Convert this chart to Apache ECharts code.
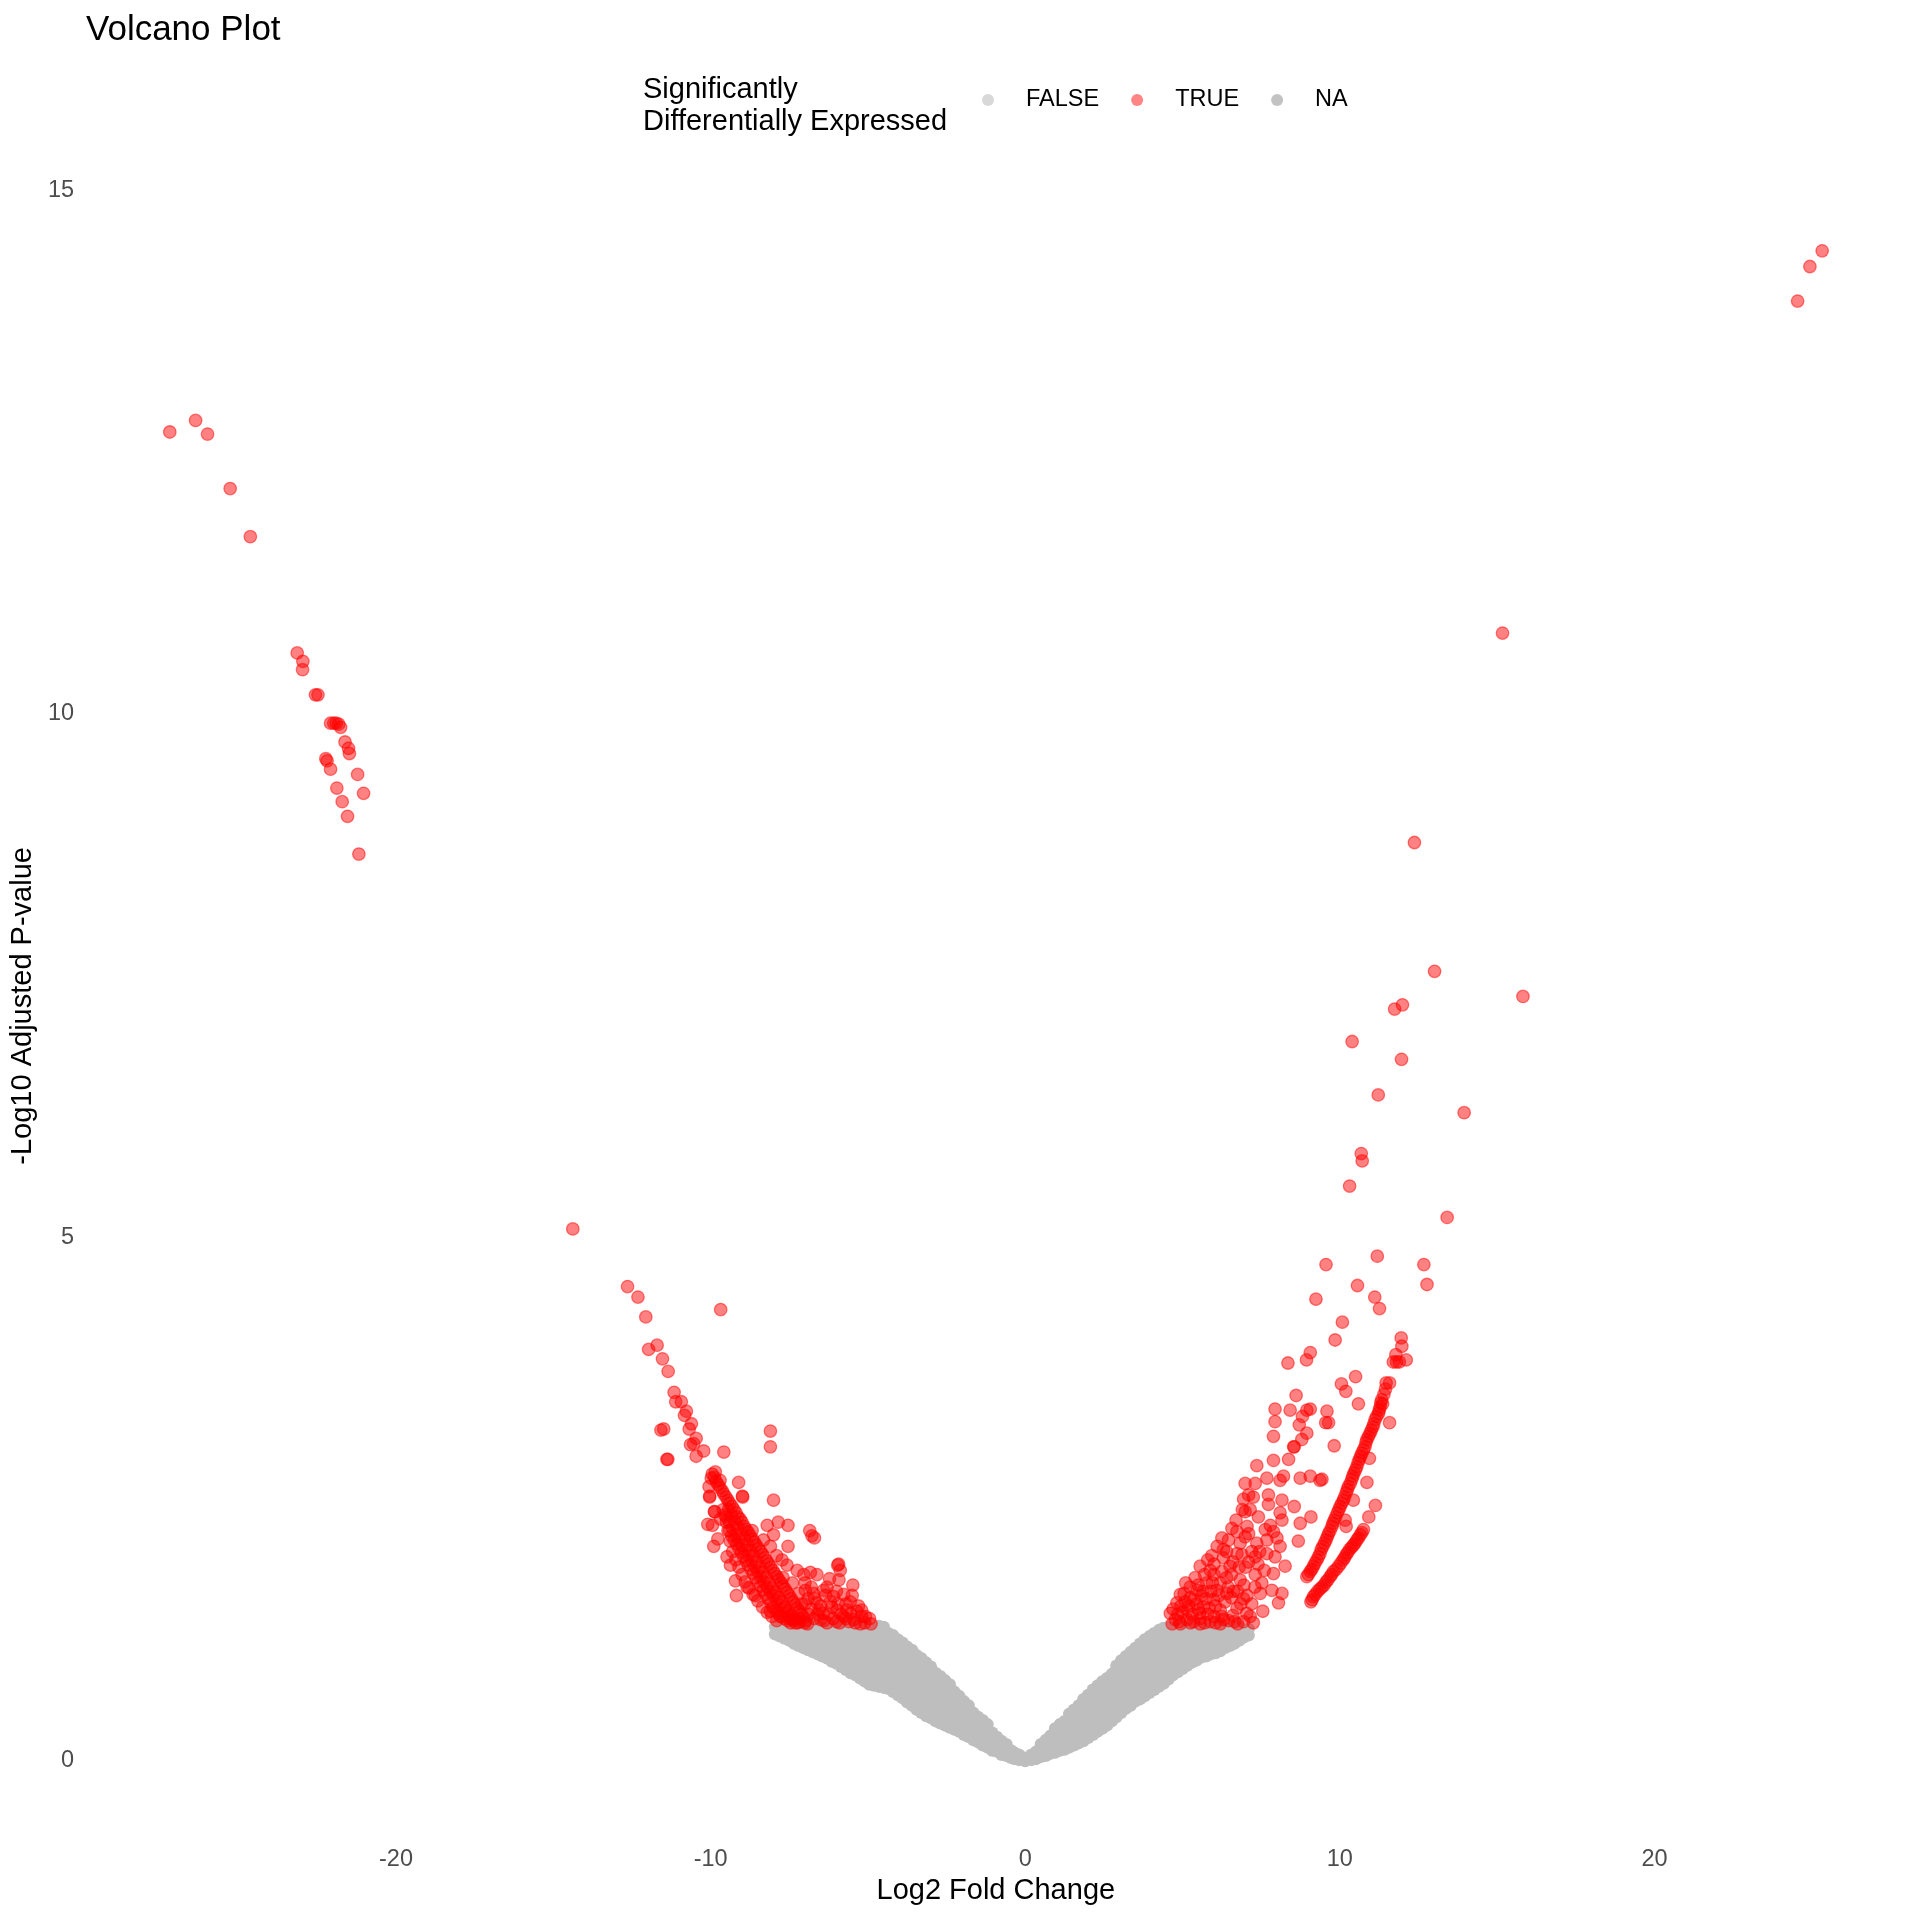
<!DOCTYPE html>
<html>
<head>
<meta charset="utf-8">
<script src="https://cdn.jsdelivr.net/npm/echarts@6/dist/echarts.min.js"></script>
<style>html,body{margin:0;padding:0;background:#fff}#c{width:1920px;height:1920px}</style>
</head>
<body>
<div id="c"></div>
<script>
// ---------- data ----------
const xTicks = [-20, -10, 0, 10, 20];
const yTicks = [0, 5, 10, 15];
const legendNames = ['FALSE', 'TRUE', 'NA'];

// red (significant), left far outliers
const redLeftFar = [[-27.19,12.69],[-26.37,12.80],[-25.99,12.67],[-25.27,12.15],[-24.63,11.69],
[-23.14,10.58],[-22.96,10.50],[-22.97,10.42],[-22.56,10.18],[-22.48,10.18],
[-22.08,9.91],[-21.98,9.91],[-21.90,9.91],[-21.82,9.90],[-21.76,9.87],
[-21.62,9.73],[-21.51,9.67],[-21.48,9.62],[-22.23,9.57],[-22.19,9.55],[-22.08,9.47],[-21.22,9.42],
[-21.88,9.29],[-21.03,9.24],[-21.71,9.16],[-21.54,9.02],[-21.18,8.66]];

// red, left middle scatter
const redLeftMid = [[-14.38,5.08],[-12.64,4.53],[-12.31,4.43],[-12.06,4.24],[-9.68,4.31],[-11.97,3.93],[-11.70,3.97],
[-11.53,3.84],[-11.35,3.72],[-11.16,3.52],[-11.11,3.43],[-10.93,3.43],[-10.77,3.34],[-10.83,3.30],[-10.61,3.22],
[-10.68,3.17],[-11.58,3.16],[-11.49,3.17],[-10.46,3.08],[-10.64,3.02],[-10.54,3.03],[-10.22,2.96],[-10.46,2.91],
[-11.39,2.88],[-11.36,2.88],[-9.58,2.95],[-8.10,3.15],[-8.10,3.00],[-9.11,2.66],[-8.99,2.53],[-10.03,2.53],
[-8.00,2.49],[-9.88,2.38],[-9.85,2.76],[-9.98,2.70],[-9.70,2.68],[-10.05,2.62]];

// red, left dense stripe and surroundings
const redLeftStripe = [[-9.95,2.74],[-9.88,2.71],[-9.83,2.67],[-9.76,2.64],[-9.70,2.61],[-9.63,2.58],[-9.58,2.55],
[-9.51,2.52],[-9.45,2.49],[-9.39,2.46],[-9.32,2.43],[-9.26,2.40],[-9.19,2.37],[-9.13,2.33],[-9.06,2.31],[-9.00,2.28],
[-8.93,2.24],[-8.87,2.21],[-8.80,2.18],[-8.74,2.15],[-8.67,2.12],[-8.61,2.09],[-8.55,2.06],[-8.48,2.03],[-8.41,2.00],
[-8.35,1.97],[-8.28,1.94],[-8.22,1.91],[-8.15,1.88],[-8.09,1.85],[-8.02,1.82],[-7.96,1.79],[-7.89,1.76],[-7.83,1.73],
[-7.76,1.70],[-7.70,1.67],[-7.63,1.64],[-7.57,1.61],[-7.50,1.58],[-7.44,1.55],[-7.37,1.52],[-7.31,1.49],[-7.24,1.46],
[-7.18,1.43],[-7.11,1.40],[-7.05,1.37],[-6.98,1.34],[-6.92,1.31],
[-9.43,2.40],[-9.33,2.34],[-9.23,2.28],[-9.13,2.23],[-9.03,2.17],[-8.93,2.12],[-8.83,2.06],[-8.73,2.01],[-8.63,1.96],
[-8.53,1.90],[-8.43,1.85],[-8.33,1.80],[-8.23,1.75],[-8.13,1.70],[-8.03,1.65],[-7.93,1.61],[-7.83,1.56],[-7.73,1.52],
[-7.63,1.47],[-7.53,1.43],[-7.43,1.39],[-7.33,1.35],[-7.23,1.32],
[-9.40,2.20],[-9.33,2.15],[-9.25,2.11],[-9.17,2.07],[-9.10,2.03],[-9.02,1.99],[-8.95,1.95],[-8.87,1.91],[-8.80,1.87],
[-8.72,1.83],[-8.64,1.79],[-8.57,1.75],[-8.49,1.71],[-8.41,1.67],[-8.33,1.63],[-8.25,1.59],[-8.17,1.55],[-8.09,1.51],
[-8.01,1.47],[-7.93,1.44],[-7.85,1.41],[-7.75,1.38],[-7.65,1.36],[-7.55,1.34],[-7.45,1.32],
[-9.60,2.40],[-9.50,2.33],[-9.40,2.28],[-9.30,2.22],[-9.20,2.16],[-9.10,2.11],[-9.00,2.06],[-8.90,2.01],[-8.80,1.96],
[-8.70,1.91],[-8.60,1.86],[-8.50,1.81],[-8.40,1.76],[-8.30,1.71],[-8.20,1.66],[-8.10,1.62],[-8.00,1.58],[-7.90,1.53],
[-7.80,1.49],[-7.70,1.45],[-7.60,1.41],[-7.50,1.38],[-7.40,1.35],[-7.30,1.32],
[-9.55,2.35],[-9.50,2.28],[-9.45,2.20],[-9.38,2.10],[-9.30,2.00],[-9.20,1.92],[-9.10,1.85],[-9.00,1.78],[-8.90,1.71],
[-8.78,1.65],[-8.65,1.59],[-8.50,1.53],[-8.35,1.47],[-8.20,1.42],[-8.05,1.38],[-7.90,1.34]];

const redLeftScatter = [[-8.98,2.52],[-10.03,2.52],[-9.87,2.38],[-9.69,2.31],[-10.09,2.26],[-9.94,2.25],[-7.85,2.28],
[-7.54,2.25],[-6.78,2.15],[-8.68,2.20],[-9.77,2.12],[-9.90,2.05],[-8.32,2.11],[-8.10,2.05],[-7.54,2.05],[-9.48,1.95],
[-9.37,1.87],[-7.73,1.92],[-7.57,1.87],[-9.21,1.72],[-9.18,1.58],[-8.84,1.66],[-8.58,1.58],[-7.25,1.82],[-7.04,1.78],
[-6.83,1.80],[-6.62,1.78],[-6.30,1.66],[-6.22,1.74],[-5.93,1.88],[-5.88,1.82],[-5.48,1.68],[-6.99,1.63],[-6.73,1.60],
[-6.41,1.63],[-6.09,1.57],[-5.77,1.59],[-5.56,1.52],[-6.62,1.51],[-6.20,1.52],[-5.98,1.44],[-5.67,1.44],[-5.35,1.43],
[-5.08,1.38],[-4.95,1.36],[-6.41,1.41],[-5.77,1.38],[-5.45,1.35],[-5.24,1.31],[-8.10,1.43],[-7.79,1.38],[-7.47,1.36],
[-7.15,1.33],[-6.85,2.20],[-6.70,2.13],[-5.96,1.87],[-5.92,1.73],[-7.00,1.50],[-6.80,1.45],[-6.60,1.40],[-6.50,1.35],
[-6.30,1.32],[-6.10,1.36],[-5.90,1.32],[-5.60,1.33],[-7.20,1.60],[-7.00,1.70],[-6.90,1.55],[-7.90,1.96],[-8.00,2.16],
[-8.20,2.25],[-7.70,1.75],[-7.40,1.70],[-6.50,1.48],[-6.00,1.62],[-5.70,1.50],[-5.30,1.48],
[-7.20,1.36],[-7.00,1.32],[-6.88,1.40],[-6.70,1.36],[-6.55,1.44],[-6.40,1.34],[-6.25,1.40],[-6.15,1.47],[-6.00,1.33],
[-5.85,1.40],[-5.70,1.36],[-5.55,1.41],[-5.40,1.32],[-5.20,1.38],[-5.10,1.32],[-6.70,1.55],[-6.35,1.58],[-6.80,1.66],
[-7.10,1.50],[-5.95,1.50],[-5.50,1.58],[-5.20,1.44],[-4.90,1.31]];

// red, right outliers and upper scatter
const redRightFar = [[25.33,14.42],[24.94,14.27],[24.55,13.94],[15.17,10.77],[12.37,8.77],[13.01,7.54],[15.82,7.30],
[11.99,7.22],[11.74,7.18],[10.39,6.87],[11.96,6.70],[11.22,6.36],[13.95,6.19],[10.68,5.80],[10.71,5.73],[10.31,5.49],
[13.41,5.19]];

const redRightMid = [[11.19,4.82],[9.56,4.74],[12.67,4.74],[10.56,4.54],[12.77,4.55],[11.11,4.43],[9.24,4.41],
[11.26,4.32],[10.08,4.19],[9.85,4.02],[11.95,4.04],[11.97,3.96],[11.78,3.88],[11.70,3.81],[11.89,3.81],[12.11,3.83],
[11.80,3.81],[9.06,3.90],[8.94,3.83],[8.35,3.80],[10.50,3.67],[10.05,3.60],[10.19,3.53],[11.47,3.61],[11.58,3.61],
[8.61,3.49],[10.59,3.41],[7.94,3.36],[8.42,3.35],[8.95,3.35],[9.06,3.36],[8.81,3.29],[8.71,3.21],[9.59,3.34],
[9.64,3.23],[9.55,3.23],[7.94,3.24],[7.89,3.10],[8.95,3.13],[8.79,3.07],[8.53,3.00],[8.55,3.00],[9.82,3.01]];

// red, right wedge next to the grey cloud
const redRightWedge = [[7.36,2.82],[7.89,2.87],[8.37,2.88],[6.99,2.65],[7.31,2.65],[7.68,2.70],[8.10,2.68],[8.21,2.72],
[8.74,2.70],[9.06,2.72],[9.37,2.68],[9.43,2.69],[6.94,2.50],[7.10,2.54],[7.25,2.52],[7.73,2.54],[7.73,2.45],[8.16,2.49],
[8.55,2.43],[6.99,2.38],[7.15,2.40],[7.41,2.33],[8.10,2.37],[8.16,2.30],[8.74,2.27],[9.08,2.33],[6.57,2.22],[6.73,2.19],
[7.05,2.24],[7.10,2.17],[7.63,2.21],[7.79,2.25],[7.89,2.19],[6.25,2.13],[6.46,2.11],[6.83,2.08],[6.99,2.14],[7.36,2.08],
[7.68,2.11],[8.00,2.13],[8.10,2.05],[8.68,2.10],[5.93,1.96],[6.30,1.94],[6.73,1.98],[6.89,1.97],[7.31,1.95],[7.68,1.98],
[7.94,1.95],[8.26,1.86],[7.89,1.79],[5.56,1.86],[5.88,1.82],[6.25,1.81],[6.51,1.86],[6.83,1.73],[7.31,1.78],[7.52,1.70],
[7.84,1.63],[8.16,1.60],[8.05,1.51],[7.55,1.43],[5.24,1.66],[5.46,1.63],[5.77,1.70],[6.09,1.63],[6.41,1.60],[6.62,1.62],
[6.94,1.55],[7.47,1.60],[4.93,1.59],[5.08,1.52],[4.82,1.51],[5.35,1.54],[5.67,1.47],[5.98,1.54],[6.20,1.44],[6.73,1.46],
[7.04,1.41],[7.15,1.38],[4.61,1.41],[4.77,1.35],[5.14,1.35],[5.56,1.36],[5.88,1.33],[6.30,1.35],[6.46,1.34],[6.94,1.33],
[4.67,1.31],[4.93,1.31],[5.56,1.31],[6.20,1.31],[5.00,1.42],[5.30,1.40],[5.50,1.45],[5.80,1.40],[6.00,1.38],[6.60,1.39],
[5.20,1.48],[5.60,1.58],[5.90,1.62],[6.20,1.70],[6.40,1.75],[6.00,1.78],[5.70,1.78],[6.60,1.90],[6.40,2.00],[6.10,2.05],
[5.40,1.75],[6.80,1.85],[7.10,1.90],[7.20,2.00],[6.70,2.30],[6.90,2.40],
[4.70,1.45],[4.85,1.40],[4.95,1.48],[5.05,1.60],[5.15,1.44],[5.25,1.56],[5.35,1.33],[5.45,1.50],[5.55,1.41],[5.65,1.62],
[5.75,1.55],[5.85,1.46],[5.95,1.70],[6.05,1.48],[6.15,1.58],[6.25,1.38],[6.35,1.52],[6.45,1.66],[6.55,1.56],[6.65,1.33],
[6.75,1.62],[6.85,1.50],[6.95,1.68],[7.05,1.58],[7.20,1.50],[7.30,1.66],[5.10,1.70],[5.50,1.68],[5.80,1.92],[6.00,1.88],
[6.30,2.02],[6.55,1.78],[7.00,1.85],[7.40,1.88],[7.60,1.82],[7.45,2.00],[4.90,1.33],[5.25,1.32],[5.70,1.32],[6.05,1.32],
[6.75,1.31],[7.25,1.32]];

// red, the two steep dense stripes on the right
const redRightStripes = [[11.33,3.45],[11.28,3.38],[11.23,3.32],[11.12,3.26],[11.05,3.19],[10.96,3.13],[10.86,3.07],
[10.80,3.00],[10.70,2.94],[10.62,2.88],[10.54,2.81],[10.45,2.75],[10.38,2.69],[10.27,2.62],[10.20,2.56],[10.11,2.49],
[10.01,2.43],[9.92,2.37],[9.82,2.30],[9.75,2.24],[9.64,2.17],[9.56,2.11],[9.46,2.05],[9.37,1.98],[9.27,1.92],[9.16,1.86],
[9.06,1.81],[8.95,1.76],
[11.36,3.41],[11.25,3.35],[11.17,3.29],[11.08,3.22],[11.00,3.16],[10.91,3.10],[10.83,3.04],[10.75,2.97],[10.66,2.91],
[10.58,2.85],[10.50,2.78],[10.41,2.72],[10.33,2.65],[10.24,2.59],[10.15,2.52],[10.06,2.46],[9.97,2.40],[9.87,2.33],
[9.78,2.27],[9.69,2.20],[9.60,2.14],[9.51,2.08],[9.41,2.02],[9.32,1.95],[9.21,1.89],[9.11,1.83],[9.00,1.78],
[10.75,2.21],[10.65,2.16],[10.54,2.11],[10.43,2.06],[10.31,2.02],[10.20,1.97],[10.10,1.92],[9.96,1.86],[9.80,1.81],
[9.69,1.76],[9.56,1.71],[9.43,1.66],[9.29,1.62],[9.16,1.57],[9.08,1.52],
[10.70,2.18],[10.59,2.13],[10.48,2.08],[10.37,2.04],[10.25,1.99],[10.15,1.94],[10.03,1.89],[9.88,1.83],[9.74,1.78],
[9.62,1.73],[9.50,1.68],[9.36,1.64],[9.22,1.59],[9.12,1.54],
[10.94,2.89],[10.86,2.66],[11.13,2.44],[10.92,2.33],[11.58,3.23],[10.43,2.49],[10.20,2.24],[10.17,2.30],
[11.40,3.50],[11.45,3.55],[11.30,3.42]];

// grey (not significant), left arm of the V
const greyLeft = [[0,0.00],[0,0.03],[-0.2,0.01],[-0.2,0.06],[-0.45,0.03],[-0.45,0.10],[-0.75,0.06],[-0.75,0.13],[-0.75,0.19],
[-1.05,0.10],[-1.05,0.18],[-1.05,0.27],[-1.35,0.15],[-1.35,0.23],[-1.35,0.31],[-1.35,0.39],
[-1.65,0.20],[-1.65,0.28],[-1.65,0.37],[-1.65,0.46],[-1.95,0.25],[-1.95,0.34],[-1.95,0.43],[-1.95,0.51],[-1.95,0.57],
[-2.25,0.30],[-2.25,0.39],[-2.25,0.48],[-2.25,0.57],[-2.25,0.66],
[-2.55,0.34],[-2.55,0.43],[-2.55,0.52],[-2.55,0.61],[-2.55,0.70],[-2.55,0.77],
[-2.85,0.38],[-2.85,0.47],[-2.85,0.56],[-2.85,0.65],[-2.85,0.74],[-2.85,0.84],
[-3.15,0.43],[-3.15,0.52],[-3.15,0.61],[-3.15,0.70],[-3.15,0.79],[-3.15,0.87],[-3.15,0.94],
[-3.45,0.49],[-3.45,0.58],[-3.45,0.67],[-3.45,0.76],[-3.45,0.85],[-3.45,0.94],[-3.45,1.01],
[-3.75,0.56],[-3.75,0.65],[-3.75,0.74],[-3.75,0.83],[-3.75,0.92],[-3.75,1.01],[-3.75,1.09],
[-4.05,0.63],[-4.05,0.72],[-4.05,0.81],[-4.05,0.90],[-4.05,0.99],[-4.05,1.08],[-4.05,1.16],
[-4.35,0.69],[-4.35,0.78],[-4.35,0.87],[-4.35,0.96],[-4.35,1.05],[-4.35,1.14],[-4.35,1.22],
[-4.65,0.71],[-4.65,0.80],[-4.65,0.89],[-4.65,0.98],[-4.65,1.07],[-4.65,1.16],[-4.65,1.25],[-4.65,1.29],
[-4.95,0.73],[-4.95,0.82],[-4.95,0.91],[-4.95,1.00],[-4.95,1.09],[-4.95,1.18],[-4.95,1.27],
[-5.25,0.79],[-5.25,0.88],[-5.25,0.97],[-5.25,1.06],[-5.25,1.15],[-5.25,1.24],[-5.25,1.29],
[-5.55,0.84],[-5.55,0.93],[-5.55,1.02],[-5.55,1.11],[-5.55,1.20],[-5.55,1.28],
[-5.85,0.90],[-5.85,0.99],[-5.85,1.08],[-5.85,1.17],[-5.85,1.26],
[-6.15,0.95],[-6.15,1.04],[-6.15,1.13],[-6.15,1.22],[-6.15,1.29],
[-6.45,1.00],[-6.45,1.09],[-6.45,1.18],[-6.45,1.27],[-6.75,1.04],[-6.75,1.13],[-6.75,1.22],[-6.75,1.29],
[-7.05,1.08],[-7.05,1.17],[-7.05,1.26],[-7.35,1.12],[-7.35,1.21],[-7.35,1.29],[-7.65,1.17],[-7.65,1.25],
[-7.95,1.21],[-7.95,1.28]];

// grey, left arm, in-between columns
const greyLeftB = [[-0.35,0.02],[-0.35,0.08],[-0.6,0.05],[-0.6,0.11],[-0.6,0.16],[-0.9,0.09],[-0.9,0.16],[-0.9,0.23],
[-1.2,0.13],[-1.2,0.21],[-1.2,0.29],[-1.2,0.35],[-1.5,0.18],[-1.5,0.26],[-1.5,0.34],[-1.5,0.42],
[-1.8,0.23],[-1.8,0.31],[-1.8,0.40],[-1.8,0.48],[-1.8,0.53],[-2.1,0.28],[-2.1,0.36],[-2.1,0.45],[-2.1,0.54],[-2.1,0.62],
[-2.4,0.32],[-2.4,0.41],[-2.4,0.50],[-2.4,0.59],[-2.4,0.67],[-2.4,0.73],
[-2.7,0.36],[-2.7,0.45],[-2.7,0.54],[-2.7,0.63],[-2.7,0.72],[-2.7,0.81],
[-3.0,0.41],[-3.0,0.50],[-3.0,0.59],[-3.0,0.68],[-3.0,0.77],[-3.0,0.85],[-3.0,0.90],
[-3.3,0.46],[-3.3,0.55],[-3.3,0.64],[-3.3,0.73],[-3.3,0.82],[-3.3,0.91],[-3.3,0.98],
[-3.6,0.53],[-3.6,0.62],[-3.6,0.71],[-3.6,0.80],[-3.6,0.89],[-3.6,0.98],[-3.6,1.06],
[-3.9,0.60],[-3.9,0.69],[-3.9,0.78],[-3.9,0.87],[-3.9,0.96],[-3.9,1.05],[-3.9,1.13],
[-4.2,0.66],[-4.2,0.75],[-4.2,0.84],[-4.2,0.93],[-4.2,1.02],[-4.2,1.11],[-4.2,1.20],
[-4.5,0.70],[-4.5,0.79],[-4.5,0.88],[-4.5,0.97],[-4.5,1.06],[-4.5,1.15],[-4.5,1.24],[-4.5,1.28],
[-4.8,0.72],[-4.8,0.81],[-4.8,0.90],[-4.8,0.99],[-4.8,1.08],[-4.8,1.17],[-4.8,1.26],
[-5.1,0.76],[-5.1,0.85],[-5.1,0.94],[-5.1,1.03],[-5.1,1.12],[-5.1,1.21],[-5.1,1.29],
[-5.4,0.82],[-5.4,0.91],[-5.4,1.00],[-5.4,1.09],[-5.4,1.18],[-5.4,1.27],
[-5.7,0.87],[-5.7,0.96],[-5.7,1.05],[-5.7,1.14],[-5.7,1.23],[-5.7,1.29],
[-6.0,0.93],[-6.0,1.02],[-6.0,1.11],[-6.0,1.20],[-6.0,1.28],[-6.3,0.98],[-6.3,1.07],[-6.3,1.16],[-6.3,1.25],
[-6.6,1.02],[-6.6,1.11],[-6.6,1.20],[-6.6,1.28],[-6.9,1.06],[-6.9,1.15],[-6.9,1.24],
[-7.2,1.10],[-7.2,1.19],[-7.2,1.27],[-7.5,1.15],[-7.5,1.23],[-7.5,1.29],[-7.8,1.19],[-7.8,1.27]];

// grey, right arm of the V
const greyRight = [[0.2,0.01],[0.2,0.06],[0.5,0.04],[0.5,0.11],[0.5,0.16],[0.8,0.07],[0.8,0.15],[0.8,0.24],
[1.1,0.10],[1.1,0.19],[1.1,0.28],[1.1,0.35],[1.4,0.13],[1.4,0.22],[1.4,0.31],[1.4,0.40],[1.4,0.45],
[1.7,0.17],[1.7,0.26],[1.7,0.35],[1.7,0.44],[1.7,0.53],[2.0,0.22],[2.0,0.31],[2.0,0.40],[2.0,0.49],[2.0,0.58],[2.0,0.63],
[2.3,0.28],[2.3,0.37],[2.3,0.46],[2.3,0.55],[2.3,0.64],[2.3,0.72],[2.6,0.34],[2.6,0.43],[2.6,0.52],[2.6,0.61],[2.6,0.70],[2.6,0.79],
[2.9,0.42],[2.9,0.51],[2.9,0.60],[2.9,0.69],[2.9,0.78],[2.9,0.87],[2.9,0.91],
[3.2,0.50],[3.2,0.59],[3.2,0.68],[3.2,0.77],[3.2,0.86],[3.2,0.95],[3.2,1.00],
[3.5,0.57],[3.5,0.66],[3.5,0.75],[3.5,0.84],[3.5,0.93],[3.5,1.02],[3.5,1.08],
[3.8,0.62],[3.8,0.71],[3.8,0.80],[3.8,0.89],[3.8,0.98],[3.8,1.07],[3.8,1.16],
[4.1,0.68],[4.1,0.77],[4.1,0.86],[4.1,0.95],[4.1,1.04],[4.1,1.13],[4.1,1.22],
[4.4,0.74],[4.4,0.83],[4.4,0.92],[4.4,1.01],[4.4,1.10],[4.4,1.19],[4.4,1.27],
[4.7,0.82],[4.7,0.91],[4.7,1.00],[4.7,1.09],[4.7,1.18],[4.7,1.27],
[5.0,0.88],[5.0,0.97],[5.0,1.06],[5.0,1.15],[5.0,1.24],[5.0,1.29],
[5.3,0.94],[5.3,1.03],[5.3,1.12],[5.3,1.21],[5.3,1.28],[5.6,0.99],[5.6,1.08],[5.6,1.17],[5.6,1.26],
[5.9,1.02],[5.9,1.11],[5.9,1.20],[5.9,1.28],[6.2,1.05],[6.2,1.14],[6.2,1.23],[6.2,1.29],
[6.5,1.10],[6.5,1.19],[6.5,1.27],[6.8,1.15],[6.8,1.23],[6.8,1.28],[7.1,1.20],[7.1,1.26]];

// grey, right arm, in-between columns
const greyRightB = [[0.35,0.02],[0.35,0.09],[0.65,0.05],[0.65,0.13],[0.65,0.20],[0.95,0.08],[0.95,0.17],[0.95,0.26],[0.95,0.31],
[1.25,0.11],[1.25,0.20],[1.25,0.29],[1.25,0.38],[1.55,0.15],[1.55,0.24],[1.55,0.33],[1.55,0.42],[1.55,0.49],
[1.85,0.19],[1.85,0.28],[1.85,0.37],[1.85,0.46],[1.85,0.55],[1.85,0.59],
[2.15,0.25],[2.15,0.34],[2.15,0.43],[2.15,0.52],[2.15,0.61],[2.15,0.68],
[2.45,0.31],[2.45,0.40],[2.45,0.49],[2.45,0.58],[2.45,0.67],[2.45,0.76],
[2.75,0.38],[2.75,0.47],[2.75,0.56],[2.75,0.65],[2.75,0.74],[2.75,0.83],
[3.05,0.46],[3.05,0.55],[3.05,0.64],[3.05,0.73],[3.05,0.82],[3.05,0.91],[3.05,0.96],
[3.35,0.53],[3.35,0.62],[3.35,0.71],[3.35,0.80],[3.35,0.89],[3.35,0.98],[3.35,1.04],
[3.65,0.59],[3.65,0.68],[3.65,0.77],[3.65,0.86],[3.65,0.95],[3.65,1.04],[3.65,1.12],
[3.95,0.65],[3.95,0.74],[3.95,0.83],[3.95,0.92],[3.95,1.01],[3.95,1.10],[3.95,1.19],
[4.25,0.71],[4.25,0.80],[4.25,0.89],[4.25,0.98],[4.25,1.07],[4.25,1.16],[4.25,1.25],
[4.55,0.78],[4.55,0.87],[4.55,0.96],[4.55,1.05],[4.55,1.14],[4.55,1.23],[4.55,1.28],
[4.85,0.85],[4.85,0.94],[4.85,1.03],[4.85,1.12],[4.85,1.21],[4.85,1.28],
[5.15,0.91],[5.15,1.00],[5.15,1.09],[5.15,1.18],[5.15,1.27],[5.45,0.96],[5.45,1.05],[5.45,1.14],[5.45,1.23],[5.45,1.29],
[5.75,1.00],[5.75,1.09],[5.75,1.18],[5.75,1.27],[6.05,1.03],[6.05,1.12],[6.05,1.21],[6.05,1.28],
[6.35,1.08],[6.35,1.17],[6.35,1.26],[6.65,1.12],[6.65,1.21],[6.65,1.28],[6.95,1.18],[6.95,1.25]];

const greyPoints = greyLeft.concat(greyLeftB, greyRight, greyRightB);
const redPoints = redLeftFar.concat(redLeftMid, redLeftStripe, redLeftScatter,
  redRightFar, redRightMid, redRightWedge, redRightStripes);

// ---------- chart ----------
const FONT = 'Liberation Sans, Arial, sans-serif';
const chart = echarts.init(document.getElementById('c'), null, {renderer: 'canvas'});
chart.setOption({
  animation: false,
  backgroundColor: '#ffffff',
  title: {
    text: 'Volcano Plot', left: 86, top: 13, padding: 0,
    textStyle: {fontFamily: FONT, fontSize: 35, fontWeight: 'normal', color: '#000'}
  },
  graphic: [{
    type: 'text', left: 643, top: 73.5,
    style: {text: 'Significantly\nDifferentially Expressed', fontFamily: FONT, fontSize: 29, lineHeight: 32, fill: '#000'}
  }],
  legend: {
    left: 982, top: 88, padding: 0, itemWidth: 12, itemHeight: 12, itemGap: 32,
    selectedMode: false,
    data: [
      {name: legendNames[0], icon: 'circle', itemStyle: {color: 'rgba(190,190,190,0.6)', borderWidth: 0}},
      {name: legendNames[1], icon: 'circle', itemStyle: {color: 'rgba(255,0,0,0.6)', borderWidth: 0}},
      {name: legendNames[2], icon: 'circle', itemStyle: {color: 'rgba(127,127,127,0.6)', borderWidth: 0}}
    ],
    textStyle: {fontFamily: FONT, fontSize: 23.5, color: '#000', lineHeight: 24, padding: [0, 0, 0, 27]}
  },
  grid: {left: 86.6, right: 15.4, top: 175.3, bottom: 83.5, containLabel: false},
  xAxis: {
    type: 'value', min: -29.82, max: 27.95,
    name: 'Log2 Fold Change', nameLocation: 'middle', nameGap: 38,
    nameTextStyle: {fontFamily: FONT, fontSize: 29, color: '#000'},
    axisLine: {show: false}, axisTick: {show: false}, splitLine: {show: false},
    axisLabel: {customValues: xTicks, margin: 11, fontFamily: FONT, fontSize: 23.5, color: '#4D4D4D'}
  },
  yAxis: {
    type: 'value', min: -0.721, max: 15.141,
    name: '-Log10 Adjusted P-value', nameLocation: 'middle', nameGap: 36,
    nameTextStyle: {fontFamily: FONT, fontSize: 29, color: '#000'},
    axisLine: {show: false}, axisTick: {show: false}, splitLine: {show: false},
    axisLabel: {customValues: yTicks, margin: 13, fontFamily: FONT, fontSize: 23.5, color: '#4D4D4D'}
  },
  series: [
    {name: legendNames[0], type: 'scatter', data: greyPoints, symbol: 'circle', symbolSize: 12.5,
     itemStyle: {color: '#BEBEBE', opacity: 1}, emphasis: {disabled: true}},
    {name: legendNames[1], type: 'scatter', data: redPoints, symbol: 'circle', symbolSize: 12.5,
     itemStyle: {color: 'rgba(255,0,0,0.62)', borderColor: 'rgba(255,0,0,0.62)', borderWidth: 1.3}, emphasis: {disabled: true}},
    {name: legendNames[2], type: 'scatter', data: [], symbol: 'circle', symbolSize: 12.5,
     itemStyle: {color: 'rgba(127,127,127,0.6)'}}
  ]
});
</script>
</body>
</html>
